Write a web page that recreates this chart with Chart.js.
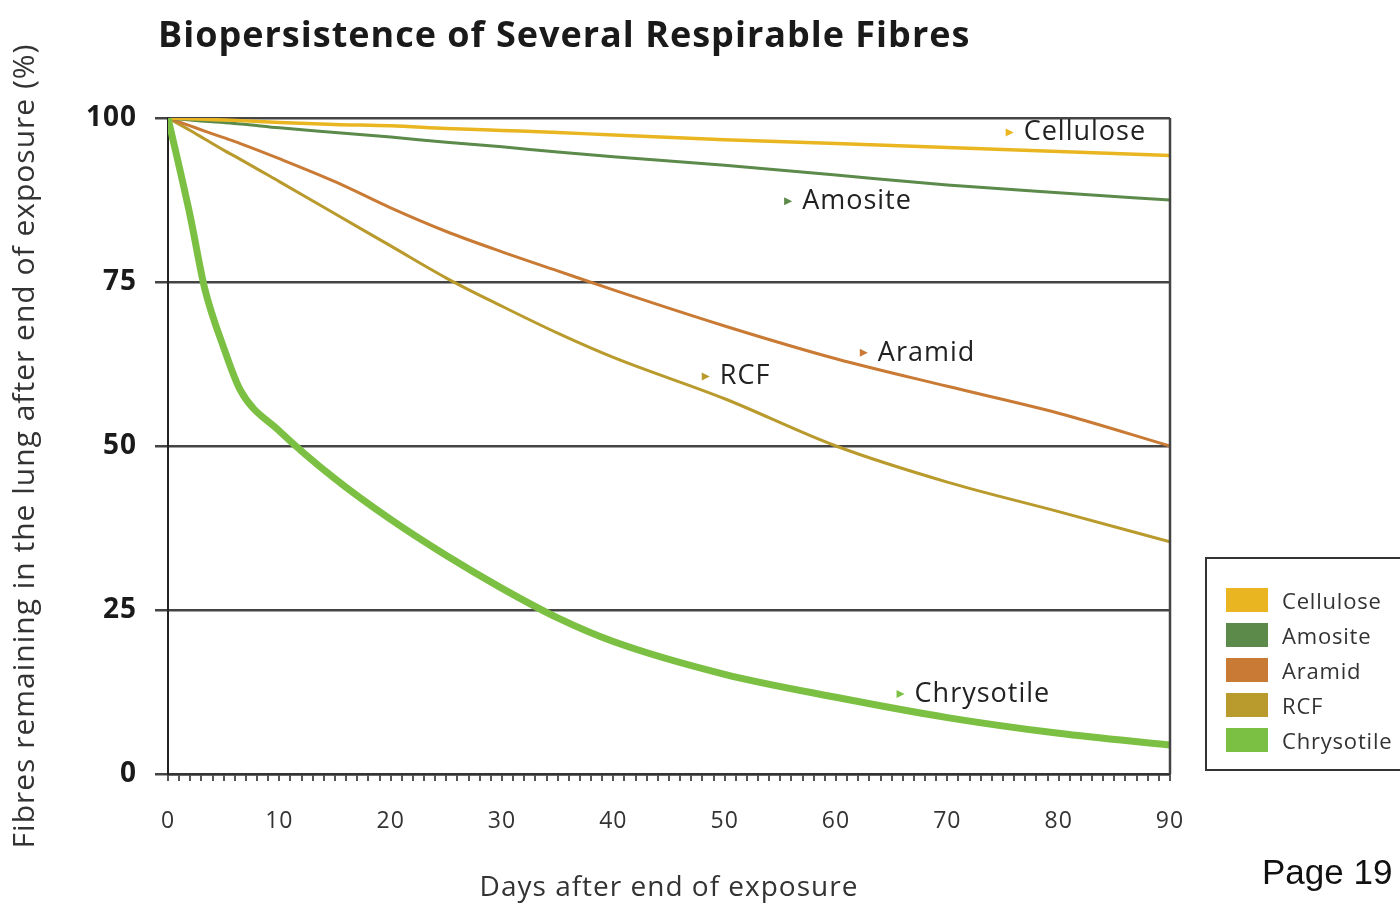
<!DOCTYPE html>
<html>
<head>
<meta charset="utf-8">
<script src="https://cdn.jsdelivr.net/npm/chart.js@4.4.1/dist/chart.umd.min.js"></script>
<style>
  body { margin: 0; background: #fff; }
  #wrap { position: relative; width: 1400px; height: 905px; overflow: hidden; font-family: "Open Sans", sans-serif; }
  #chartCanvas { position: absolute; left: 0; top: 0; }
  #title { position: absolute; left: 158px; top: 9px; font-size: 36px; font-weight: bold; color: #1a1a1a; letter-spacing: 1px; }
  #page { position: absolute; left: 1262px; top: 852px; font-family: "Liberation Sans", Arial, sans-serif; font-size: 35px; color: #111; }
  #legend { position: absolute; left: 1205px; top: 557px; width: 210px; height: 214px; border: 2px solid #333; box-sizing: border-box; padding: 23px 0 0 19px; }
  .item { display: flex; align-items: center; height: 35px; font-size: 22px; letter-spacing: 0.8px; color: #333; }
  .sw { width: 42px; height: 24px; margin-right: 14px; }
</style>
</head>
<body>
<div id="wrap">
  <canvas id="chartCanvas" width="1400" height="905"></canvas>
  <div id="title">Biopersistence of Several Respirable Fibres</div>
  <div id="legend"></div>
  <div id="page">Page 19</div>
</div>
<script>
// --- data ---
const days = [0, 2, 3.3, 5, 6.5, 10, 15, 20, 25, 30, 35, 40, 50, 60, 70, 80, 90];
const fibres = ["Cellulose", "Amosite", "Aramid", "RCF", "Chrysotile"];
const cellulose  = [100, 99.9, 99.8, 99.7, 99.6, 99.3, 99.0, 98.8, 98.4, 98.1, 97.8, 97.4, 96.7, 96.1, 95.5, 94.9, 94.3];
const amosite    = [100, 99.7, 99.5, 99.3, 99.1, 98.5, 97.8, 97.1, 96.3, 95.6, 94.8, 94.1, 92.8, 91.3, 89.8, 88.6, 87.5];
const aramid     = [100, 98.8, 98.0, 97.0, 96.1, 93.8, 90.3, 86.3, 82.7, 79.6, 76.7, 73.8, 68.3, 63.3, 59.1, 55.0, 50.0];
const rcf        = [100, 98.1, 96.8, 95.1, 93.7, 90.3, 85.4, 80.5, 75.6, 71.3, 67.2, 63.5, 57.2, 50.0, 44.5, 40.0, 35.4];
const chrysotile = [100, 85, 74, 65, 58.5, 52.3, 45.0, 38.8, 33.3, 28.3, 23.8, 20.2, 15.2, 11.7, 8.6, 6.2, 4.4];
const yTicks = [0, 25, 50, 75, 100];

// where the in-chart names sit (day, percent)
const nameSpots = [[75.6, 97.8], [55.7, 87.3], [62.5, 64.2], [48.3, 60.6], [65.8, 12.2]];

const colors = ["#e9b622", "#5b8a4a", "#c97a34", "#b99a2c", "#7cc043"];
const widths = [3.5, 3, 3, 3, 7];
const allSeries = [cellulose, amosite, aramid, rcf, chrysotile];

const datasets = fibres.map((name, i) => ({
  label: name,
  data: days.map((d, j) => ({ x: d, y: allSeries[i][j] })),
  borderColor: colors[i],
  borderWidth: widths[i],
  pointRadius: 0,
  cubicInterpolationMode: "monotone",
  order: i === 4 ? 0 : 1
}));

// legend box (html)
const legend = document.getElementById("legend");
fibres.forEach((name, i) => {
  const row = document.createElement("div");
  row.className = "item";
  row.innerHTML = `<span class="sw" style="background:${colors[i]}"></span>${name}`;
  legend.appendChild(row);
});

// the original lettering is a bit wider, space the canvas text out slightly
const spacing = {
  id: "spacing",
  beforeDraw(chart) { chart.ctx.letterSpacing = "1px"; },
  afterDraw(chart) { chart.ctx.letterSpacing = "0px"; }
};

// right border + names with little arrows
const extras = {
  id: "extras",
  afterDatasetsDraw(chart) {
    const { ctx, chartArea, scales } = chart;
    ctx.save();
    ctx.strokeStyle = "#444";
    ctx.lineWidth = 2.5;
    ctx.beginPath();
    ctx.moveTo(chartArea.right, chartArea.top);
    ctx.lineTo(chartArea.right, chartArea.bottom);
    ctx.stroke();

    ctx.letterSpacing = "1px";
    ctx.font = '27px "Open Sans", sans-serif';
    ctx.textBaseline = "middle";
    nameSpots.forEach(([d, v], i) => {
      const x = scales.x.getPixelForValue(d);
      const y = scales.y.getPixelForValue(v);
      ctx.fillStyle = colors[i];
      ctx.beginPath();
      ctx.moveTo(x - 4, y - 4);
      ctx.lineTo(x + 4, y);
      ctx.lineTo(x - 4, y + 4);
      ctx.closePath();
      ctx.fill();
      ctx.fillStyle = "#222";
      ctx.fillText(fibres[i], x + 14, y);
    });
    ctx.restore();
  }
};

new Chart(document.getElementById("chartCanvas"), {
  type: "line",
  data: { datasets },
  plugins: [spacing, extras],
  options: {
    responsive: false,
    animation: false,
    layout: { padding: { left: 0, right: 230, top: 118, bottom: 0 } },
    plugins: { legend: { display: false }, tooltip: { enabled: false } },
    scales: {
      x: {
        type: "linear",
        min: 0,
        max: 90,
        afterFit: s => { s.height = 131; },
        afterBuildTicks: s => { s.ticks = Array.from({ length: 91 }, (_, i) => ({ value: i })); },
        ticks: {
          autoSkip: false,
          maxRotation: 0,
          padding: 27,
          color: "#333",
          font: { family: "Open Sans", size: 23 },
          callback: v => (v % 10 === 0 ? v : "")
        },
        grid: { drawOnChartArea: false, tickLength: 7, color: "#555", lineWidth: 2 },
        border: { color: "#333", width: 2.5 },
        title: {
          display: true,
          text: "Days after end of exposure",
          color: "#333",
          font: { family: "Open Sans", size: 28 },
          padding: { top: 0, bottom: 0 }
        }
      },
      y: {
        min: 0,
        max: 100,
        afterFit: s => { s.width = 168; },
        afterBuildTicks: s => { s.ticks = yTicks.map(v => ({ value: v })); },
        ticks: {
          padding: 18,
          color: "#1a1a1a",
          font: { family: "Open Sans", size: 28, weight: "bold" }
        },
        grid: { color: "#444", lineWidth: 2.5, tickLength: 13 },
        border: { color: "#222", width: 2 },
        title: {
          display: true,
          text: "Fibres remaining in the lung after end of exposure (%)",
          color: "#333",
          font: { family: "Open Sans", size: 30 },
          padding: { top: 7, bottom: 0 }
        }
      }
    }
  }
});
</script>
</body>
</html>
